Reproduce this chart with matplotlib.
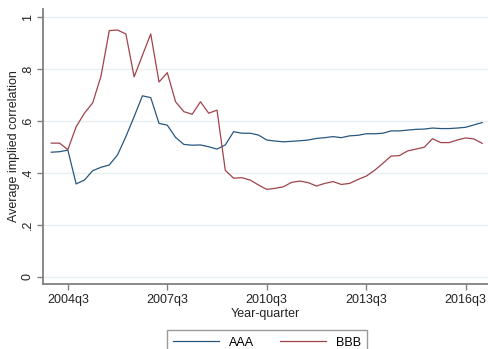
import matplotlib
matplotlib.use("Agg")
import matplotlib.pyplot as plt

plt.rcParams['font.family'] = ['Liberation Sans', 'DejaVu Sans']

# quarters 2004q1 .. 2017q1
quarters = [f"{y}q{q}" for y in range(2004, 2018) for q in range(1, 5)][:53]

aaa = [0.480, 0.482, 0.488, 0.358, 0.373, 0.409, 0.422, 0.431, 0.470, 0.540,
       0.617, 0.697, 0.690, 0.591, 0.584, 0.537, 0.510, 0.507, 0.508, 0.501,
       0.492, 0.508, 0.559, 0.553, 0.553, 0.546, 0.527, 0.523, 0.520, 0.522,
       0.524, 0.527, 0.533, 0.536, 0.540, 0.536, 0.543, 0.545, 0.551, 0.551,
       0.553, 0.562, 0.562, 0.565, 0.568, 0.569, 0.573, 0.571, 0.571, 0.573,
       0.576, 0.585, 0.594]

bbb = [0.515, 0.515, 0.490, 0.578, 0.630, 0.670, 0.773, 0.948, 0.950, 0.935,
       0.770, 0.853, 0.935, 0.750, 0.786, 0.674, 0.636, 0.626, 0.674, 0.630,
       0.642, 0.410, 0.380, 0.382, 0.373, 0.354, 0.337, 0.341, 0.347, 0.364,
       0.369, 0.363, 0.350, 0.360, 0.367, 0.356, 0.360, 0.375, 0.388, 0.410,
       0.437, 0.465, 0.467, 0.485, 0.492, 0.499, 0.532, 0.517, 0.517, 0.527,
       0.535, 0.531, 0.514]

xtick_labels = ["2004q3", "2007q3", "2010q3", "2013q3", "2016q3"]
yticks = [0, 0.2, 0.4, 0.6, 0.8, 1.0]
ytick_labels = ["0", ".2", ".4", ".6", ".8", "1"]

navy = "#28577F"
maroon = "#A0434B"
gray = "#808080"

fig = plt.figure(figsize=(4.88, 3.49), dpi=100)
ax = fig.add_axes([43/488, 65/349, 445/488, 275/349])

x = list(range(len(quarters)))
ax.plot(x, aaa, color=navy, lw=0.9, label="AAA")
ax.plot(x, bbb, color=maroon, lw=0.9, label="BBB")

ax.set_xlim(-1.0, 52.7)
ax.set_ylim(-0.027, 1.031)

xt = [quarters.index(l) for l in xtick_labels]
ax.set_xticks(xt)
ax.set_xticklabels(xtick_labels, fontsize=9)
ax.set_yticks(yticks)
ax.set_yticklabels(ytick_labels, fontsize=9, rotation=90, va='center', ha='center')

ax.grid(axis='y', color='#E8EFF1', lw=1.0)
ax.set_axisbelow(True)
for s in ['top', 'right']:
    ax.spines[s].set_visible(False)
for s in ['left', 'bottom']:
    ax.spines[s].set_color(gray)
    ax.spines[s].set_linewidth(1.3)
ax.tick_params(axis='both', color=gray, length=4, width=1.0, labelcolor='#222222')
ax.tick_params(axis='y', pad=7)
ax.tick_params(axis='x', pad=3)

ax.set_xlabel("Year-quarter", fontsize=9, labelpad=2, color='#222222')
ax.set_ylabel("Average implied correlation", fontsize=9, color='#222222')
ax.yaxis.set_label_coords(-0.052, 0.5)

leg = fig.legend(loc='upper center', bbox_to_anchor=(267/488, 25/349), ncol=2,
                 fontsize=9, frameon=True, fancybox=False, handlelength=3.7,
                 columnspacing=2.0, borderpad=0.5, handletextpad=0.8)
leg.get_frame().set_edgecolor(gray)
leg.get_frame().set_linewidth(1.0)

fig.savefig("out.png", dpi=100)
